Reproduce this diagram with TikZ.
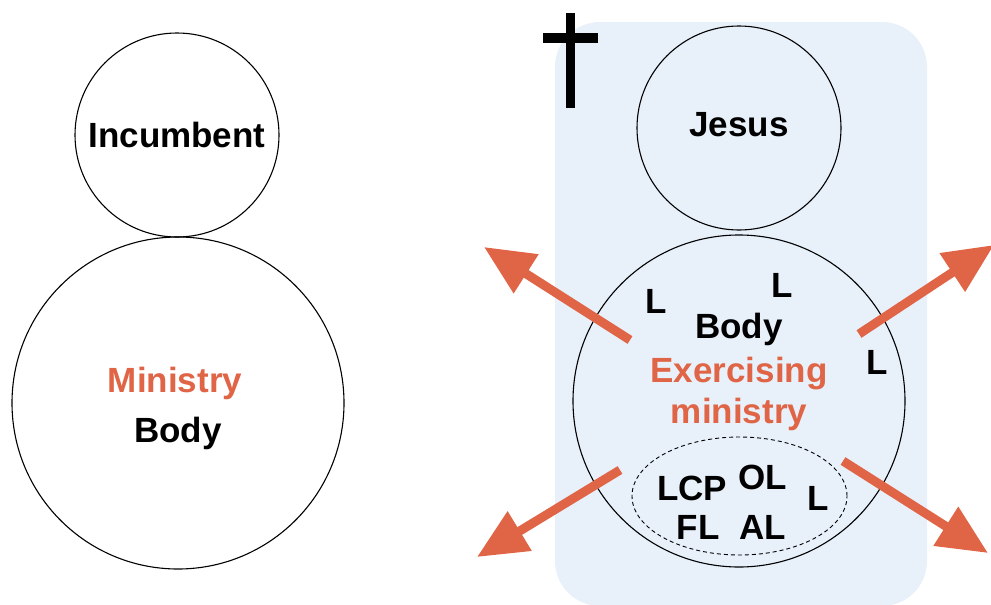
\documentclass[tikz,border=0pt]{standalone}
\usepackage{fontspec}
\setmainfont{Liberation Sans}
\usetikzlibrary{arrows.meta,shapes.geometric}
\definecolor{panelblue}{HTML}{E8F0FA}
\definecolor{accent}{HTML}{E06446}

\begin{document}
\begin{tikzpicture}[x=1pt, y=-1pt,
        every node/.style={font=\fontsize{35}{40}\selectfont\bfseries, inner sep=0pt},
        ring/.style={circle, draw, line width=1.1pt},
        lab/.style={anchor=base},
        push/.style={draw=accent, line width=9pt, -{Triangle[length=50pt, width=44pt]}}]
        \useasboundingbox (0, 0) rectangle (991, 605);
        % left: the incumbent model
        \node[ring, minimum size=204pt] (inc) at (177, 135) {Incumbent};
        \node[ring, minimum size=332pt] (lbig) at (178, 403) {};
        \node[lab, text=accent] (lmin) at (175, 392) {Ministry};
        \node[lab] (lbody) at (178, 442) {Body};
        % right: the body model
        \fill[panelblue, rounded corners=45pt] (555, 22) rectangle (927, 606);
        \fill (566, 13) rectangle (575, 108);
        \fill (543, 33) rectangle (598, 43);
        \node[ring, minimum size=204pt] (jesus) at (739, 128) {};
        \node (jtext) at (739, 125) {Jesus};
        \node[ring, minimum size=332pt] (rbig) at (739, 401) {};
        \node[ellipse, draw, dashed, dash pattern=on 4pt off 3pt, line width=0.9pt,
              minimum width=215pt, minimum height=118pt] (lead) at (739.5, 496) {};
        \node[lab] (rbody) at (739, 338) {Body};
        \node[lab, text=accent] (ex) at (739, 382) {Exercising};
        \node[lab, text=accent] (exm) at (739, 423) {ministry};
        \node[lab] (l1) at (656, 313) {L};
        \node[lab] (l2) at (782, 297) {L};
        \node[lab] (l3) at (877, 374) {L};
        \node[lab] (l4) at (818, 510) {L};
        \node[lab] (lcp) at (692, 500) {LCP};
        \node[lab] (ol) at (763, 489) {OL};
        \node[lab] (fl) at (698, 539) {FL};
        \node[lab] (al) at (763, 539) {AL};
        % arrows going out
        \coordinate (nwtail) at (630, 340);
        \coordinate (nwtip) at (484, 247);
        \coordinate (netail) at (859, 334);
        \coordinate (netip) at (994, 245);
        \coordinate (swtail) at (620, 470);
        \coordinate (swtip) at (477, 557);
        \coordinate (setail) at (843, 461);
        \coordinate (setip) at (988, 553);
        \draw[push] (nwtail) -- (nwtip);
        \draw[push] (netail) -- (netip);
        \draw[push] (swtail) -- (swtip);
        \draw[push] (setail) -- (setip);
\end{tikzpicture}
\end{document}
